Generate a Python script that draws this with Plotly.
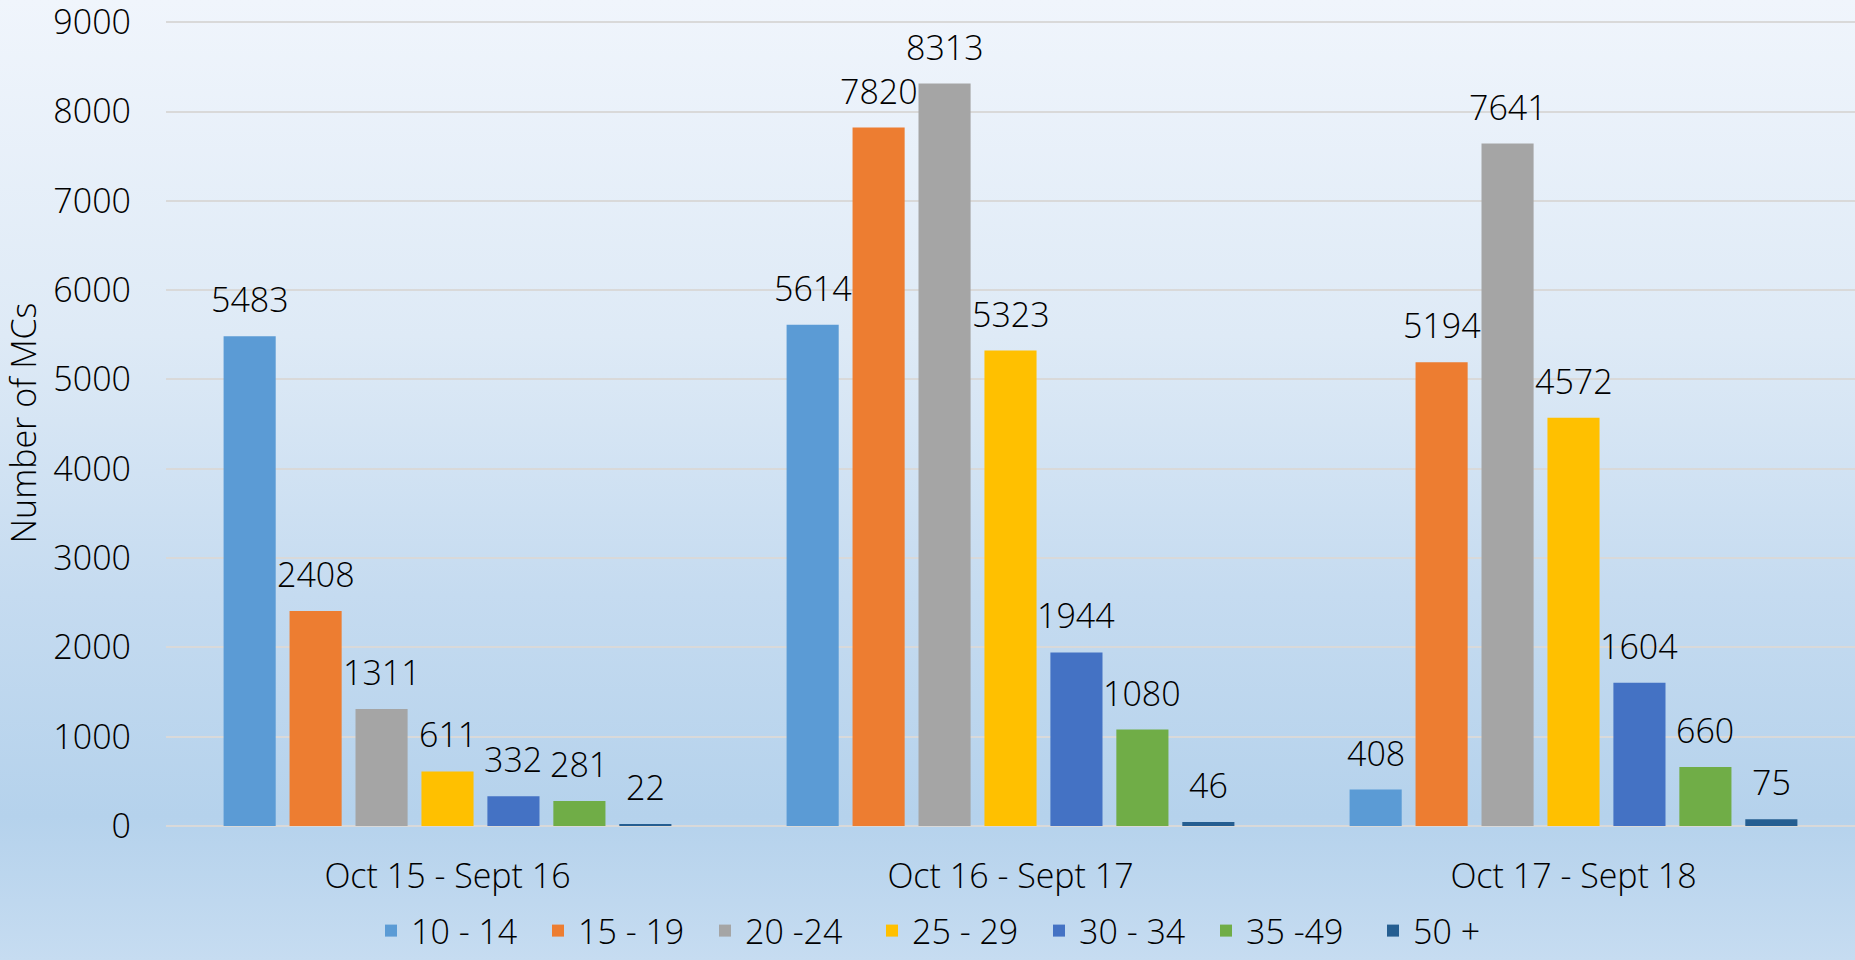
import base64
import plotly.graph_objects as go

# ---- data ----
periods = ["Oct 15 - Sept 16", "Oct 16 - Sept 17", "Oct 17 - Sept 18"]
age_groups = ["10 - 14", "15 - 19", "20 -24", "25 - 29", "30 - 34", "35 -49", "50 +"]
v_10_14 = [5483, 5614, 408]
v_15_19 = [2408, 7820, 5194]
v_20_24 = [1311, 8313, 7641]
v_25_29 = [611, 5323, 4572]
v_30_34 = [332, 1944, 1604]
v_35_49 = [281, 1080, 660]
v_50_plus = [22, 46, 75]
series_values = [v_10_14, v_15_19, v_20_24, v_25_29, v_30_34, v_35_49, v_50_plus]
y_ticks = [0, 1000, 2000, 3000, 4000, 5000, 6000, 7000, 8000, 9000]

# ---- style ----
colors = ["#5B9BD5", "#ED7D31", "#A5A5A5", "#FFC000", "#4472C4", "#70AD47", "#255E91"]
FONT = "Open Sans"
FS = 34
W, H = 1855, 960
ML, MR, MT, MB = 166, 0, 20, 134
PW, PH = W - ML - MR, H - MT - MB
BARGAP = 0.18
slot_px = PW / len(periods) * (1 - BARGAP) / len(age_groups)

fig = go.Figure()
for name, vals, col in zip(age_groups, series_values, colors):
    fig.add_trace(go.Bar(
        name=name, x=periods, y=vals,
        marker=dict(color=col, line=dict(width=0)),
        hoverinfo="x+y+name",
    ))

# data labels above bars
n = len(age_groups)
for i, vals in enumerate(series_values):
    for p, v in zip(periods, vals):
        fig.add_annotation(
            x=p, y=v, text=str(v), showarrow=False,
            xshift=(i - (n - 1) / 2) * slot_px, yshift=12,
            yanchor="bottom", xanchor="center",
            font=dict(family=FONT, size=FS, color="#000000", weight=300),
        )

# gradient background as an svg image
svg = (
    '<svg xmlns="http://www.w3.org/2000/svg" width="100" height="100" preserveAspectRatio="none">'
    '<defs><linearGradient id="g" x1="0" y1="0" x2="0" y2="1">'
    '<stop offset="0" stop-color="#F0F5FC"/>'
    '<stop offset="0.35" stop-color="#DEEAF6"/>'
    '<stop offset="0.62" stop-color="#C5DBF0"/>'
    '<stop offset="0.85" stop-color="#B5D2EC"/>'
    '<stop offset="1" stop-color="#C6DCF1"/>'
    '</linearGradient></defs>'
    '<rect x="0" y="0" width="100" height="100" fill="url(#g)"/></svg>'
)
src = "data:image/svg+xml;base64," + base64.b64encode(svg.encode()).decode()
fig.add_layout_image(
    source=src, xref="paper", yref="paper",
    x=-ML / PW, y=1 + MT / PH, sizex=W / PW, sizey=H / PH,
    xanchor="left", yanchor="top", sizing="stretch", layer="below",
)

fig.update_layout(
    width=W, height=H,
    margin=dict(l=ML, r=MR, t=MT, b=MB, autoexpand=False),
    paper_bgcolor="#CFE1F2", plot_bgcolor="rgba(0,0,0,0)",
    barmode="group", bargap=BARGAP, bargroupgap=0.21,
    font=dict(family=FONT, size=FS, color="#000000", weight=300),
    showlegend=True,
    legend=dict(
        orientation="h", xref="container", yref="container",
        x=0.2, xanchor="left", y=0.0, yanchor="bottom",
        entrywidth=122, bgcolor="rgba(0,0,0,0)",
        font=dict(family=FONT, size=FS, color="#000000", weight=300),
        traceorder="normal",
    ),
    xaxis=dict(
        type="category", showgrid=False, showline=False, zeroline=False,
        ticks="", ticklabelstandoff=27,
        tickfont=dict(family=FONT, size=FS, color="#000000", weight=300),
    ),
    yaxis=dict(
        range=[0, 9025], tickvals=y_ticks, ticktext=[str(t) for t in y_ticks],
        showgrid=True, gridcolor="#D9D9D9", gridwidth=2,
        zeroline=True, zerolinecolor="#D9D9D9", zerolinewidth=2,
        showline=False, ticks="", ticklabelstandoff=34,
        ticklabeloverflow="allow",
        tickfont=dict(family=FONT, size=FS, color="#000000", weight=300),
        title=dict(text="Number of MCs", standoff=14,
                   font=dict(family=FONT, size=FS, color="#000000", weight=300)),
    ),
)

fig.write_html(
    "out.html",
    config={"displayModeBar": False},
    post_script="document.body.style.margin='0';document.body.style.padding='0';"
                "document.documentElement.style.overflow='hidden';",
)
